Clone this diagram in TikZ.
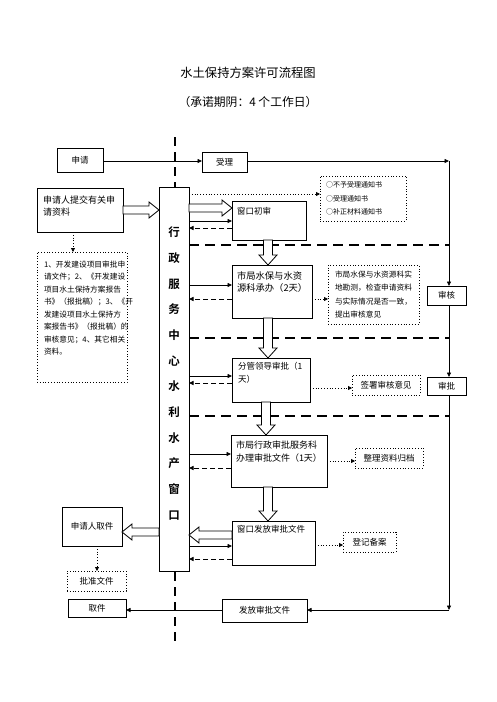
\documentclass[tikz,border=0pt]{standalone}
\usepackage{fontspec}
\newfontfamily\cjk{Noto Sans CJK SC}[BoldFont={Noto Sans CJK SC Bold}]
\usetikzlibrary{arrows.meta,calc}
\newcommand\hollowx[2]{\draw[hollow] let \p1=#1, \p2=#2, \n1={ifthenelse(\x2>\x1,1,-1)} in
  (\x1,{\y1+4pt}) -- ({\x2-\n1*10pt},{\y1+4pt}) -- ({\x2-\n1*10pt},{\y1+8pt}) -- (\x2,\y1) --
  ({\x2-\n1*10pt},{\y1-8pt}) -- ({\x2-\n1*10pt},{\y1-4pt}) -- (\x1,{\y1-4pt}) -- cycle;}
\newcommand\hollowy[2]{\draw[hollow] let \p1=#1, \p2=#2, \n1={ifthenelse(\y2>\y1,1,-1)} in
  ({\x1+4.5pt},\y1) -- ({\x1+4.5pt},{\y2-\n1*10pt}) -- ({\x1+9pt},{\y2-\n1*10pt}) -- (\x1,\y2) --
  ({\x1-9pt},{\y2-\n1*10pt}) -- ({\x1-4.5pt},{\y2-\n1*10pt}) -- ({\x1-4.5pt},\y1) -- cycle;}
\begin{document}
\begin{tikzpicture}[x=1pt,y=-1pt,
  box/.style={draw, line width=0.8pt, outer sep=0pt, inner sep=0pt, anchor=north west, fill=white,
    font=\cjk\fontsize{8.5}{12.5}\selectfont, align=left},
  dbox/.style={box, dotted},
  txt/.style={inner sep=0pt, outer sep=0pt, anchor=west, align=left, font=\cjk\fontsize{8.5}{12.5}\selectfont},
  sarrow/.style={line width=0.8pt, -{Triangle[length=4.5pt,width=4pt]}},
  darrow/.style={line width=0.9pt, dash pattern=on 5pt off 3pt, -{Triangle[length=4.5pt,width=4pt]}},
  dotarrow/.style={line width=0.8pt, dotted, -{Triangle[length=4pt,width=4pt]}},
  thickdash/.style={line width=2.2pt, dash pattern=on 10pt off 6pt},
  vdash/.style={line width=2pt, dash pattern=on 9pt off 6pt},
  hollow/.style={line width=0.8pt, fill=white}]
\useasboundingbox (0,0) rectangle (496,702);
\fill[white] (0,0) rectangle (496,702);

% titles
\node[font=\cjk\fontsize{12.3}{12}\selectfont] (title) at (248,73) {水土保持方案许可流程图};
\node[font=\cjk\fontsize{11.8}{12}\selectfont] (subtitle) at (248,102) {（承诺期阴：4 个工作日）};

% vertical dashed line
\coordinate (vt) at (175,137);
\coordinate (vb) at (175,645);
\draw[vdash] (vt) -- (vb);

% boxes
\node[box, minimum width=46pt, minimum height=24pt] (shenqing) at (57,148) {申请};
\node[box, minimum width=45pt, minimum height=20pt] (shouli) at (202,152) {受理};
\node[box, minimum width=86pt, minimum height=44pt] (tijiao) at (37,188) {};
\node[dbox, minimum width=90pt, minimum height=130pt] (ziliao) at (37,252) {};
\node[box, minimum width=30pt, minimum height=384pt] (col) at (159,187) {};
\node[box, minimum width=74pt, minimum height=39pt] (chushen) at (232,201) {};
\node[dbox, minimum width=86pt, minimum height=45pt] (tongzhi) at (320,176) {};
\node[box, minimum width=80pt, minimum height=53pt] (chengban) at (232,265) {};
\node[dbox, minimum width=91pt, minimum height=59pt, font=\cjk\fontsize{7.7}{13.3}\selectfont] (kance) at (328,265)
  {市局水保与水资源科实\\地勘测，检查申请资料\\与实际情况是否一致，\\提出审核意见};
\node[box, minimum width=39pt, minimum height=19pt] (shenhe) at (427,286) {审核};
\node[box, minimum width=78pt, minimum height=44pt] (fenguan) at (232,358) {};
\node[dbox, minimum width=68pt, minimum height=20pt] (qianshu) at (352,375) {签署审核意见};
\node[box, minimum width=39pt, minimum height=18pt] (shenpi) at (427,377) {审批};
\node[box, minimum width=96pt, minimum height=52pt] (banli) at (231,435) {};
\node[dbox, minimum width=68pt, minimum height=20pt] (guidang) at (355,448) {整理资料归档};
\node[box, minimum width=83pt, minimum height=44pt] (fafang) at (232,521) {};
\node[dbox, minimum width=53pt, minimum height=20pt] (dengji) at (343,532) {登记备案};
\node[box, minimum width=60pt, minimum height=39pt] (qujian) at (62,507) {申请人取件};
\node[dbox, minimum width=59pt, minimum height=20pt] (pizhun) at (67,571) {批准文件};
\node[box, minimum width=85pt, minimum height=23pt] (fafang2) at (222,599) {发放审批文件};
\node[box, minimum width=58pt, minimum height=18pt] (qu) at (68,599) {取件};

% texts inside boxes
\node[txt, font=\cjk\fontsize{9}{12}\selectfont] (t-tijiao) at (43,206) {申请人提交有关申\\请资料};
\node[txt, font=\cjk\fontsize{7.7}{12.5}\selectfont] (t-ziliao) at (44,308)
  {1、开发建设项目审批申\\请文件；2、《开发建设\\项目水土保持方案报告\\书》（报批稿）；3、《开\\发建设项目水土保持方\\案报告书》（报批稿）的\\审核意见；4、其它相关\\资料。};
\node[txt, font=\cjk\fontsize{11.5}{25.7}\selectfont\bfseries, anchor=center, align=center] (t-col) at (174,373.5)
  {行\\政\\服\\务\\中\\心\\水\\利\\水\\产\\窗\\口};
\node[txt] (t-chushen) at (237,211) {窗口初审};
\node[txt, font=\cjk\fontsize{7}{13.5}\selectfont] (t-tongzhi) at (326,198.5) {○不予受理通知书\\○受理通知书\\○补正材料通知书};
\node[txt, font=\cjk\fontsize{9.3}{12.5}\selectfont] (t-chengban) at (237,282) {市局水保与水资\\源科承办（2天）};
\node[txt] (t-fenguan) at (238,373) {分管领导审批（1\\天）};
\node[txt, font=\cjk\fontsize{9}{13}\selectfont] (t-banli) at (236,451.5) {市局行政审批服务科\\办理审批文件（1天）};
\node[txt] (t-fafang) at (237,529) {窗口发放审批文件};

% right side flow
\coordinate (c1) at (449,161);
\coordinate (c2) at (449,610);
\draw[sarrow] (shenqing.east |- 0,161) -- (shouli.west |- 0,161);
\draw[sarrow] (shouli.east |- c1) -- (c1);
\draw[sarrow] (c1) -- (shenhe.north -| c1);
\draw[sarrow] (shenhe.south -| c1) -- (shenpi.north -| c1);
\draw[sarrow] (shenpi.south -| c1) -- (c2);
\draw[sarrow] (c2) -- (fafang2.east |- c2);
\draw[sarrow] (fafang2.west |- c2) -- (qu.east |- c2);

% thick dashed separators
\draw[thickdash] (col.east |- 0,245) -- (c1 |- 0,245);
\draw[thickdash] (col.east |- 0,338) -- (c1 |- 0,338);
\draw[thickdash] (col.east |- 0,416) -- (c1 |- 0,416);

% solid and dashed exchanges with the column
\draw[sarrow] (col.east |- 0,221) -- (chushen.west |- 0,221);
\draw[darrow] (chushen.west |- 0,228) -- (col.east |- 0,228);
\draw[sarrow] (col.east |- 0,285) -- (chengban.west |- 0,285);
\draw[darrow] (chengban.west |- 0,299) -- (col.east |- 0,299);
\draw[sarrow] (col.east |- 0,376) -- (fenguan.west |- 0,376);
\draw[darrow] (fenguan.west |- 0,383) -- (col.east |- 0,383);
\draw[sarrow] (col.east |- 0,454) -- (banli.west |- 0,454);
\draw[darrow] (banli.west |- 0,468) -- (col.east |- 0,468);
\draw[sarrow] (col.east |- 0,546) -- (fafang.west |- 0,546);
\draw[darrow] (fafang.west |- 0,559) -- (col.east |- 0,559);

% dotted arrows
\draw[dotarrow] (col.east |- 0,194) -- (tongzhi.west |- 0,194);
\draw[dotarrow] (chengban.east |- 0,299) -- (kance.west |- 0,299);
\draw[dotarrow] (fenguan.east |- 0,388) -- (qianshu.west |- 0,388);
\draw[dotarrow] (banli.east |- 0,461) -- (guidang.west |- 0,461);
\draw[dotarrow] (fafang.east |- 0,545) -- (dengji.west |- 0,545);
\draw[dotarrow] (tijiao.south -| 73,0) -- (ziliao.north -| 73,0);
\draw[dotarrow] (qujian.south -| 97,0) -- (pizhun.north -| 97,0);

% hollow arrows
\hollowx{(tijiao.east |- 0,210)}{(col.west |- 0,210)}
\hollowx{(col.east |- 0,208)}{(chushen.west |- 0,208)}
\hollowy{(chushen.south -| 268,0)}{(chengban.north -| 268,0)}
\hollowy{(chengban.south -| 268,0)}{(fenguan.north -| 268,0)}
\hollowy{(fenguan.south -| 266,0)}{(banli.north -| 266,0)}
\hollowy{(banli.south -| 268,0)}{(fafang.north -| 268,0)}
\hollowx{(fafang.west |- 0,535)}{(col.east |- 0,535)}
\hollowx{(col.west |- 0,532)}{(qujian.east |- 0,532)}
\end{tikzpicture}
\end{document}
